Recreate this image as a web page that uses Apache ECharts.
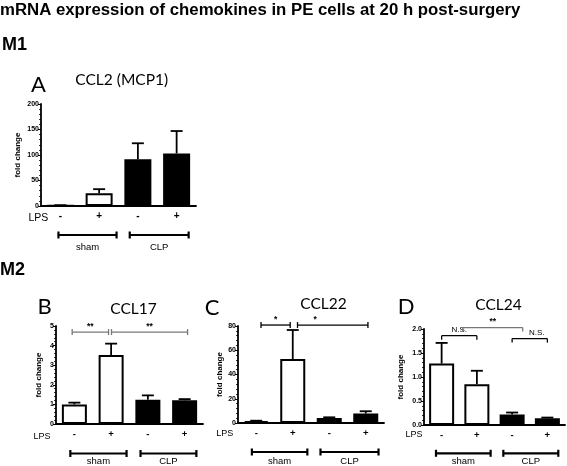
<!DOCTYPE html>
<html>
<head>
<meta charset="utf-8">
<script src="https://cdn.jsdelivr.net/npm/echarts@6/dist/echarts.min.js"></script>
<style>
html,body{margin:0;padding:0;background:#fff;}
#c{width:567px;height:466px;}
</style>
</head>
<body>
<div id="c"></div>
<script>
// ---------- data ----------
const mainTitle = 'mRNA expression of chemokines in PE cells at 20 h post-surgery';
const sectionLabels = ['M1', 'M2'];
const panelLetters = ['A', 'B', 'C', 'D'];
const panelTitles = ['CCL2 (MCP1)', 'CCL17', 'CCL22', 'CCL24'];
const lpsLabels = ['-', '+', '-', '+'];
const groupOfBar = ['sham', 'sham', 'CLP', 'CLP'];
const groupLabels = ['sham', 'CLP'];
const yName = 'fold change';

const ccl2Mean = [1, 25, 91.5, 103];
const ccl2Err = [0.6, 8, 31.5, 44];
const ccl17Mean = [1.0, 3.52, 1.24, 1.21];
const ccl17Err = [0.09, 0.58, 0.22, 0.06];
const ccl22Mean = [1.6, 52.7, 4.1, 7.8];
const ccl22Err = [0.3, 24, 0.6, 1.9];
const ccl24Mean = [1.28, 0.85, 0.22, 0.14];
const ccl24Err = [0.43, 0.28, 0.04, 0.015];

const yMax = [200, 5, 80, 2];
const yInterval = [50, 1, 20, 0.5];

// significance annotations: [fromCat, toCat, yValue, text]
const sigA = [];
const sigB = [[-0.06, 0.93, 4.69, '**'], [1.01, 3.08, 4.69, '**']];
const sigC = [[0.13, 0.93, 80.8, '*'], [1.13, 3.06, 80.8, '*']];
const sigD = [[0.0, 1.0, 1.86, 'N.S.'], [0.6, 2.3, 2.03, '**'], [2.0, 3.0, 1.80, 'N.S.']];

// ---------- layout / style ----------
const means = [ccl2Mean, ccl17Mean, ccl22Mean, ccl24Mean];
const errs = [ccl2Err, ccl17Err, ccl22Err, ccl24Err];
const sigs = [sigA, sigB, sigC, sigD];
const grids = [
  {left: 41, top: 104, width: 155, height: 102},
  {left: 56, top: 326, width: 147, height: 98},
  {left: 238, top: 326, width: 146, height: 97},
  {left: 424, top: 329, width: 141, height: 96}
];
const layout = [
  {barW: 27, nameGap: 19, lpsFont: 10.5, lpsX: -0.31, lpsDy: 12, tickFont: 10, spans: [[-0.05, 1.45], [1.79, 3.31]], brDy: 29, labDy: 41, sigColor: [], sigStyle: []},
  {barW: 25, nameGap: 13, lpsFont: 9, lpsX: -0.65, lpsDy: 12.5, tickFont: 9.5, spans: [[-0.11, 1.42], [1.8, 3.32]], brDy: 29.5, labDy: 37.5, sigColor: ['#777', '#777'], sigStyle: ['cap', 'cap'], sigLab: [0.5, 0.5]},
  {barW: 25, nameGap: 14, lpsFont: 9, lpsX: -0.63, lpsDy: 10.5, tickFont: 9.5, spans: [[-0.12, 1.40], [1.76, 3.35]], brDy: 29, labDy: 38, sigColor: ['#000', '#000'], sigStyle: ['cap', 'cap'], sigLab: [0.5, 0.25]},
  {barW: 25, nameGap: 19, lpsFont: 9, lpsX: -0.54, lpsDy: 10, tickFont: 9.5, spans: [[-0.16, 1.39], [1.75, 3.31]], brDy: 28.3, labDy: 36.7, sigColor: ['#000', '#777', '#000'], sigStyle: ['down', 'down', 'down'], sigLab: [0.5, 0.5, 0.7]}
];
const fillOf = {sham: '#ffffff', CLP: '#000000'};

function catX(api, f, y) {
  const a = api.coord([0, y]);
  const b = api.coord([1, y]);
  return [a[0] + (b[0] - a[0]) * f, a[1]];
}

const xAxes = [], yAxes = [], series = [];
grids.forEach((g, i) => {
  const L = layout[i];
  xAxes.push({
    type: 'category', gridIndex: i, data: lpsLabels,
    axisLine: {lineStyle: {color: '#000', width: 1.8}},
    axisTick: {alignWithLabel: true, length: 3, lineStyle: {color: '#000', width: 1}},
    axisLabel: {color: '#000', fontWeight: 'bold', fontSize: L.tickFont, margin: 5, fontFamily: 'Liberation Sans'}
  });
  yAxes.push({
    type: 'value', gridIndex: i, min: 0, max: yMax[i], interval: yInterval[i],
    name: yName, nameLocation: 'middle', nameGap: L.nameGap, nameRotate: 90,
    nameTextStyle: {color: '#000', fontWeight: 'bold', fontSize: 8, fontFamily: 'Liberation Sans'},
    axisLine: {show: true, lineStyle: {color: '#000', width: 1.8}},
    axisTick: {show: true, length: 3, lineStyle: {color: '#000', width: 1}},
    minorTick: {show: true, splitNumber: 5, length: 2, lineStyle: {color: '#000', width: 0.8}},
    splitLine: {show: false},
    axisLabel: {color: '#000', fontWeight: 'bold', fontSize: 7, margin: 2, fontFamily: 'Liberation Sans',
      formatter: v => (i === 3 ? v.toFixed(1) : String(v))}
  });
  series.push({
    type: 'bar', xAxisIndex: i, yAxisIndex: i, barWidth: L.barW, z: 2,
    data: means[i].map((v, k) => ({value: v, itemStyle: {color: fillOf[groupOfBar[k]], borderColor: '#000', borderWidth: 2}})),
    animation: false
  });
  // error bars
  series.push({
    type: 'custom', xAxisIndex: i, yAxisIndex: i, z: 3, animation: false,
    data: means[i].map((v, k) => [k, v, errs[i][k]]),
    renderItem: (params, api) => {
      const b = api.coord([api.value(0), api.value(1)]);
      const t = api.coord([api.value(0), api.value(1) + api.value(2)]);
      const st = {stroke: '#000', lineWidth: 1.8};
      return {type: 'group', children: [
        {type: 'line', shape: {x1: b[0], y1: b[1], x2: t[0], y2: t[1]}, style: st},
        {type: 'line', shape: {x1: t[0] - 6, y1: t[1], x2: t[0] + 6, y2: t[1]}, style: st}
      ]};
    }
  });
  // significance brackets
  if (sigs[i].length) {
    series.push({
      type: 'custom', xAxisIndex: i, yAxisIndex: i, z: 4, animation: false,
      data: sigs[i].map((s, k) => [k]),
      renderItem: (params, api) => {
        const s = sigs[i][params.dataIndex];
        const col = L.sigColor[params.dataIndex];
        const p0 = catX(api, s[0], s[2]);
        const p1 = catX(api, s[1], s[2]);
        const st = {stroke: col, lineWidth: 1.3};
        const ch = [{type: 'line', shape: {x1: p0[0], y1: p0[1], x2: p1[0], y2: p1[1]}, style: st}];
        if (L.sigStyle[params.dataIndex] === 'cap') {
          ch.push({type: 'line', shape: {x1: p0[0], y1: p0[1] - 3, x2: p0[0], y2: p0[1] + 3}, style: st});
          ch.push({type: 'line', shape: {x1: p1[0], y1: p1[1] - 3, x2: p1[0], y2: p1[1] + 3}, style: st});
        } else {
          ch.push({type: 'line', shape: {x1: p0[0], y1: p0[1], x2: p0[0], y2: p0[1] + 4}, style: st});
          ch.push({type: 'line', shape: {x1: p1[0], y1: p1[1], x2: p1[0], y2: p1[1] + 4}, style: st});
        }
        const lf = L.sigLab[params.dataIndex];
        const isStar = s[3].indexOf('*') >= 0;
        ch.push({type: 'text', x: p0[0] + (p1[0] - p0[0]) * lf, y: p0[1] - (isStar ? 1 : 1.5),
          style: {text: s[3], fill: '#000', textAlign: 'center', textVerticalAlign: 'bottom',
            font: (isStar ? 'bold 8.5px' : '8px') + ' "Liberation Sans"'}});
        return {type: 'group', children: ch};
      }
    });
  }
  // LPS label + group brackets below axis
  series.push({
    type: 'custom', xAxisIndex: i, yAxisIndex: i, z: 4, animation: false,
    data: [[0]],
    renderItem: (params, api) => {
      const base = catX(api, 0, 0);
      const ch = [];
      const lp = catX(api, L.lpsX, 0);
      ch.push({type: 'text', x: lp[0], y: base[1] + L.lpsDy,
        style: {text: 'LPS', fill: '#000', textAlign: 'right', textVerticalAlign: 'middle', font: L.lpsFont + 'px "Liberation Sans"'}});
      groupLabels.forEach((gname, gi) => {
        const a = catX(api, L.spans[gi][0], 0);
        const b = catX(api, L.spans[gi][1], 0);
        const y = base[1] + L.brDy;
        const st = {stroke: '#000', lineWidth: 2.2};
        ch.push({type: 'line', shape: {x1: a[0], y1: y, x2: b[0], y2: y}, style: st});
        ch.push({type: 'line', shape: {x1: a[0], y1: y - 3.5, x2: a[0], y2: y + 3.5}, style: st});
        ch.push({type: 'line', shape: {x1: b[0], y1: y - 3.5, x2: b[0], y2: y + 3.5}, style: st});
        ch.push({type: 'text', x: (a[0] + b[0]) / 2, y: base[1] + L.labDy,
          style: {text: gname, fill: '#000', textAlign: 'center', textVerticalAlign: 'middle', font: '9.5px "Liberation Sans"'}});
      });
      return {type: 'group', children: ch};
    }
  });
});

const graphic = [
  {type: 'text', x: 0, y: 10, style: {text: mainTitle, fill: '#000', textVerticalAlign: 'middle', font: 'bold 16.8px "Liberation Sans"'}},
  {type: 'text', x: 2, y: 45, style: {text: sectionLabels[0], fill: '#000', textVerticalAlign: 'middle', font: 'bold 18px "Liberation Sans"'}},
  {type: 'text', x: 0, y: 270, style: {text: sectionLabels[1], fill: '#000', textVerticalAlign: 'middle', font: 'bold 18px "Liberation Sans"'}}
];
const letterPos = [[38.5, 85], [44.5, 307], [212, 307.5], [406, 307]];
const titlePos = [[121.7, 80], [133.5, 309], [323.5, 304], [498.5, 305]];
panelLetters.forEach((t, i) => {
  graphic.push({type: 'text', x: letterPos[i][0], y: letterPos[i][1],
    style: {text: t, fill: '#000', textAlign: 'center', textVerticalAlign: 'middle', font: '22px Lato'}});
  graphic.push({type: 'text', x: titlePos[i][0], y: titlePos[i][1],
    style: {text: panelTitles[i], fill: '#000', textAlign: 'center', textVerticalAlign: 'middle', font: '15.5px Lato'}});
});

const chart = echarts.init(document.getElementById('c'), null, {renderer: 'canvas'});
chart.setOption({
  animation: false,
  backgroundColor: '#fff',
  grid: grids,
  xAxis: xAxes,
  yAxis: yAxes,
  series: series,
  graphic: graphic
});
</script>
</body>
</html>
